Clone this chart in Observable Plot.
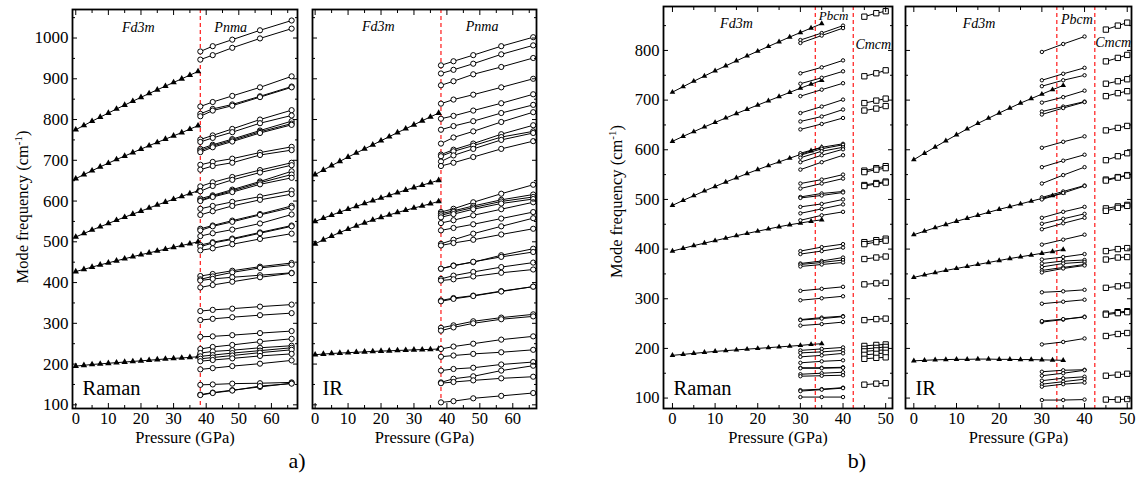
<!DOCTYPE html>
<html><head><meta charset="utf-8">
<script src="https://cdn.jsdelivr.net/npm/d3@7"></script>
<script src="https://cdn.jsdelivr.net/npm/@observablehq/plot@0.6"></script>
<style>
body{margin:0;background:#fff;}
#root{position:relative;width:1142px;height:491px;font-family:"Liberation Serif",serif;color:#000;overflow:hidden;}
#root svg{position:absolute;}
</style></head><body><div id="root"></div>
<script>
// ---------- Panel a) : Fd3m -> Pnma ----------
const aFd3mP = [0,2.5,5,7.5,10,12.5,15,17.5,20,22.5,25,27.5,30,32.5,35,37.5];
const aPnmaP = [38.2,42,48,56.5,66.2];
const aTransition = [38.2];
const aRamanFd3m = [
  [775,785.5,796,806,816,826,835.5,845,854.5,864,873,882,891,900,909,918],
  [655,665,674.5,684,693,702,710.5,719,727.5,736,744,752,760,768,776.5,785],
  [512,520.5,529,537,545,553,560.5,568,575.5,583,590.5,597.5,604.5,611.5,618.5,625],
  [427,432.5,438,443.5,448.5,453.5,458.5,463.5,468.5,473,477.5,482,486.5,491,495.5,500],
  [195,197,199,200.5,202,203.5,205,206.5,208,209.5,211,212.5,214,215,216.5,218]
];
const aRamanPnma = [
  [967,980,996,1019,1043],[947,958,976,999,1023],[832,843,858,879,906],[814,826,837,857,881],
  [808,822,834,855,879],[751,761,777,800,823],[745,755,769,791,810],[728,738,752,773,796],
  [724,735,749,770,790],[720,732,746,767,787],[689,696,704,719,733],[677,686,694,713,725],
  [636,646,659,676,694],[624,637,652,670,688],[606,614,628,648,673],[602,612,625,645,665],
  [600,610,622,641,657],[581,588,598,611,626],[566,575,588,603,617],[532,540,552,568,588],
  [528,538,549,566,584],[514,521,530,545,567],[492,499,508,523,540],[488,497,506,521,538],
  [479,484,494,507,520],[416,421,429,439,448],[408,415,425,436,444],[405,409,413,418,424],
  [388,394,402,413,423],[330,333,336,341,346],[308,311,315,320,325],[267,268,271,276,281],
  [237,242,247,255,262],[227,231,234,240,245],[219,222,227,233,240],[213,216,221,228,235],
  [207,210,214,220,225],[187,190,195,201,209],[149,150,152,153,155],[125,130,136,144,153],
  [124,129,135,146,152]
];
const aIRFd3m = [
  [665,676,687,697.5,708,718,728,738,748,758,768,777.5,787,797,806.5,816],
  [550,558,565.5,573,580,587,594,601,607.5,614,620.5,627,633,639,645,651],
  [495,505,514,523,531,539,546.5,553.5,560,566,572,577.5,583,588,593.5,599],
  [223,224.5,226,227,228,229,230,231,232,232.5,233.5,234,235,235.5,236,237]
];
const aIRPnma = [
  [933,943,958,980,1002],[913,922,937,960,982],[884,894,911,929,951],[839,849,861,879,900],
  [802,809,822,840,862],[775,784,796,816,836],[741,756,771,794,818],[714,726,741,764,786],
  [710,722,736,757,771],[697,712,728,750,767],[686,694,708,728,747],
  [573,581,597,618,640],[569,576,588,603,616],[565,573,584,599,610],[560,568,580,594,605],
  [546,553,565,580,597],[528,534,543,557,573],[495,505,520,538,558],[491,497,505,518,532],
  [434,442,450,467,483],[434,441,451,463,475],[409,417,426,438,449],[405,408,415,424,432],
  [356,362,368,379,390],[354,360,367,378,390],[289,295,305,314,322],[282,290,300,310,317],
  [237,243,250,260,268],[218,221,225,229,235],[184,188,191,199,205],[155,164,170,184,196],
  [153,156,160,165,169],[106,109,116,122,129]
];
const aXTicks = [0,10,20,30,40,50,60];
const aXMinor = [5,15,25,35,45,55,65];
const aYTicks = [100,200,300,400,500,600,700,800,900,1000];
const aYMinor = [150,250,350,450,550,650,750,850,950,1050];

// ---------- Panel b) : Fd3m -> Pbcm -> Cmcm ----------
const bFd3mP = [0,2.5,5,7.5,10,12.5,15,17.5,20,22.5,25,27.5,30,32.5,35];
const bPbcmP = [30,35,40];
const bCmcmP = [45,47.8,50];
const bTransition = [33.5,42.4];
const bRamanFd3m = [
  [716,727,738,748.5,759,769,779,789,798.5,808,817.5,827,836,845,854],
  [617,627,636.5,646,655,664,673,681.5,690,698.5,707,715.5,724,732,740],
  [488,498,507.5,517,526,535,543.5,552,560,568,575.5,583,590.5,598,605],
  [396,401.5,407,412,417,422,427,431.5,436,440.5,445,449,452.5,456,459],
  [186,188,190,192,194,195.5,197,198.5,200,201.5,203,204.5,206,208,209.5]
];
const bRamanPbcm = [
  [821,835,850],[815,830,845],[754,766,780],[733,745,758],[708,721,734],[674,687,701],
  [657,667,681],[641,652,664],[593,605,612],[589,602,610],[584,597,605],[575,589,601],
  [560,575,589],[532,540,550],[522,532,542],[505,512,516],[503,508,514],[485,491,500],
  [472,481,490],[458,468,475],[396,404,410],[390,396,403],[371,376,383],[369,373,378],
  [365,369,373],[316,320,324],[297,301,305],[258,262,265],[257,260,264],[246,249,253],
  [196,199,202],[191,193,196],[183,186,190],[171,174,176],[161,161,162],[160,160,161],
  [148,150,152],[144,145,146],[116,118,121],[114,117,120],[102,102,102]
];
const bRamanCmcm = [
  [868,875,879],[748,754,760],[694,699,703],[679,683,688],[558,563,567],[555,560,563],
  [529,533,536],[527,531,534],[414,418,421],[410,414,417],[380,383,385],[329,331,332],
  [257,259,260],[205,207,208],[199,201,203],[194,196,197],[187,189,191],[179,181,182],
  [127,129,130]
];
const bIRFd3m = [
  [580,593,605.5,618,630,642,653,663.5,674,684,694,703,712,721,729.5],
  [429,436,443,449.5,456,462,468,474,480,485.5,491,496.5,502,507.5,513],
  [343,348,352.5,357,361,365,369,373,377,381,384.5,388,391.5,395,399],
  [175,176,177,177.5,178,178,178.5,178.5,178,178,177.5,177.5,177,176.5,176]
];
const bIRPbcm = [
  [797,813,828],[740,753,765],[728,740,750],[695,706,719],[677,687,697],[671,684,696],
  [604,616,627],[565,578,590],[532,549,565],[504,516,528],[500,513,527],[463,475,485],
  [451,461,471],[440,452,463],[409,419,429],[379,384,390],[371,376,378],[364,371,374],
  [357,363,369],[353,361,367],[313,315,318],[290,294,298],[253,258,264],[255,259,263],
  [208,213,220],[153,156,157],[145,150,156],[135,140,143],[128,133,138],[123,128,131],
  [96,96,97]
];
const bIRCmcm = [
  [842,850,856],[778,785,791],[733,738,742],[708,714,718],[639,644,648],[579,587,593],
  [540,545,549],[538,544,548],[482,486,489],[477,483,487],[396,400,402],[379,383,384],
  [322,325,327],[270,273,275],[268,271,273],[225,229,231],[145,147,149],[97,97,98]
];
const bXTicks = [0,10,20,30,40,50];
const bXMinor = [5,15,25,35,45];
const bYTicks = [100,200,300,400,500,600,700,800];
const bYMinor = [150,250,350,450,550,650,750,850];

const xTitle = "Pressure (GPa)";
const yTitle = "Mode frequency (cm-1)";

// ---------- helpers ----------
const FONT = '"Liberation Serif", "Times New Roman", serif';
const root = document.getElementById("root");

function toRows(P, modes, phase) {
  const out = [];
  modes.forEach((m, i) => m.forEach((f, j) => out.push({phase, mode: phase + "-" + i, p: P[j], f})));
  return out;
}
const STYLE = {
  Fd3m: {symbol: "triangle", fill: "black", stroke: "none"},
  Pnma: {symbol: "circle", fill: "white", stroke: "black"},
  Pbcm: {symbol: "circle", fill: "white", stroke: "black"},
  Cmcm: {symbol: "square", fill: "white", stroke: "black"}
};

function drawPanel(cfg) {
  const [l, t, r, b] = cfg.frame;
  const mL = 50, mR = 14, mT = 6, mB = 32;
  const marks = [Plot.ruleX(cfg.trans, {stroke: "#ff2a2a", strokeWidth: 1.3, strokeDasharray: "4,3"})];
  for (const s of cfg.series) marks.push(Plot.line(s.rows, {x: "p", y: "f", z: "mode", stroke: "black", strokeWidth: 1}));
  for (const s of cfg.series) {
    const st = STYLE[s.phase];
    marks.push(Plot.dot(s.rows, {x: "p", y: "f", symbol: st.symbol, r: cfg.r[s.phase], fill: st.fill, stroke: st.stroke, strokeWidth: 1}));
  }
  for (const pl of cfg.phaseLabels) {
    marks.push(Plot.text([pl], {x: "x", text: "name", frameAnchor: "top", dy: pl.dy, fontStyle: "italic", fontSize: pl.size, lineAnchor: "middle"}));
  }
  marks.push(Plot.text([cfg.tag], {frameAnchor: "bottom-left", dx: 10, dy: -20, fontSize: 20.5, textAnchor: "start", lineAnchor: "middle"}));
  marks.push(Plot.text([xTitle], {frameAnchor: "bottom", dy: 29, fontSize: 16.5, lineAnchor: "middle"}));
  if (cfg.yTitle) marks.push(Plot.text([yTitle], {frameAnchor: "left", dx: cfg.yTitle.dx, dy: cfg.yTitle.dy, rotate: -90, fontSize: 16.5, lineAnchor: "middle", textAnchor: "middle"}));
  marks.push(
    Plot.axisX({anchor: "bottom", ticks: cfg.xTicks, tickSize: -5, tickPadding: 9, label: null, fontSize: 16.5, tickFormat: d => String(d)}),
    Plot.axisX({anchor: "bottom", ticks: cfg.xMinor, tickSize: -3, fill: "none", label: null}),
    Plot.axisX({anchor: "top", ticks: cfg.xTicks, tickSize: -5, fill: "none", label: null}),
    Plot.axisX({anchor: "top", ticks: cfg.xMinor, tickSize: -3, fill: "none", label: null}),
    Plot.axisY({anchor: "left", ticks: cfg.yTicks, tickSize: -5, tickPadding: 9, label: null, fontSize: cfg.yFont, fill: cfg.yLabels ? "black" : "none", tickFormat: d => String(d)}),
    Plot.axisY({anchor: "left", ticks: cfg.yMinor, tickSize: -3, fill: "none", label: null}),
    Plot.axisY({anchor: "right", ticks: cfg.yTicks, tickSize: -5, fill: "none", label: null}),
    Plot.axisY({anchor: "right", ticks: cfg.yMinor, tickSize: -3, fill: "none", label: null}),
    Plot.frame({stroke: "black", strokeWidth: 1.8})
  );
  const svg = Plot.plot({
    width: (r - l) + mL + mR, height: (b - t) + mT + mB,
    marginLeft: mL, marginRight: mR, marginTop: mT, marginBottom: mB,
    x: {domain: cfg.xDomain}, y: {domain: cfg.yDomain},
    style: {fontFamily: FONT, fontSize: "16px", background: "transparent", overflow: "visible", color: "black"},
    marks
  });
  // superscript for cm^-1
  svg.querySelectorAll("text").forEach(el => {
    if (el.textContent === yTitle) {
      el.textContent = "";
      const ns = "http://www.w3.org/2000/svg";
      const a = document.createElementNS(ns, "tspan"); a.textContent = "Mode frequency (cm";
      const s = document.createElementNS(ns, "tspan"); s.textContent = "-1"; s.setAttribute("dy", "-6"); s.setAttribute("font-size", "11");
      const c = document.createElementNS(ns, "tspan"); c.textContent = ")"; c.setAttribute("dy", "6");
      el.append(a, s, c);
    }
  });
  svg.style.left = (l - mL) + "px";
  svg.style.top = (t - mT) + "px";
  svg.style.maxWidth = "none";
  root.appendChild(svg);
}

// ---------- draw ----------
const aR = {Fd3m: 2.4, Pnma: 2.6};
const bR = {Fd3m: 2.1, Pbcm: 1.7, Cmcm: 3};

drawPanel({
  frame: [72, 9, 297, 408], xDomain: [-1, 68], yDomain: [91, 1070],
  xTicks: aXTicks, xMinor: aXMinor, yTicks: aYTicks, yMinor: aYMinor, yLabels: true, yFont: 17,
  yTitle: {dx: -50, dy: -2},
  trans: aTransition, r: aR, tag: "Raman",
  series: [{phase: "Fd3m", rows: toRows(aFd3mP, aRamanFd3m, "Fd3m")}, {phase: "Pnma", rows: toRows(aPnmaP, aRamanPnma, "Pnma")}],
  phaseLabels: [{name: "Fd3m", x: 19.2, dy: 18, size: 14}, {name: "Pnma", x: 47.5, dy: 18, size: 14}]
});
drawPanel({
  frame: [312, 9, 536, 408], xDomain: [-0.8, 67.2], yDomain: [91, 1070],
  xTicks: aXTicks, xMinor: aXMinor, yTicks: aYTicks, yMinor: aYMinor, yLabels: false, yFont: 17,
  trans: aTransition, r: aR, tag: "IR",
  series: [{phase: "Fd3m", rows: toRows(aFd3mP, aIRFd3m, "Fd3m")}, {phase: "Pnma", rows: toRows(aPnmaP, aIRPnma, "Pnma")}],
  phaseLabels: [{name: "Fd3m", x: 19.2, dy: 17, size: 14}, {name: "Pnma", x: 50.7, dy: 17, size: 14}]
});
drawPanel({
  frame: [663, 6, 892, 408], xDomain: [-2.1, 51.6], yDomain: [79, 888.5],
  xTicks: bXTicks, xMinor: bXMinor, yTicks: bYTicks, yMinor: bYMinor, yLabels: true, yFont: 16.5,
  yTitle: {dx: -47, dy: -6},
  trans: bTransition, r: bR, tag: "Raman",
  series: [{phase: "Fd3m", rows: toRows(bFd3mP, bRamanFd3m, "Fd3m")}, {phase: "Pbcm", rows: toRows(bPbcmP, bRamanPbcm, "Pbcm")}, {phase: "Cmcm", rows: toRows(bCmcmP, bRamanCmcm, "Cmcm")}],
  phaseLabels: [{name: "Fd3m", x: 15, dy: 17, size: 14}, {name: "Pbcm", x: 37.8, dy: 9, size: 13}, {name: "Cmcm", x: 47.1, dy: 38, size: 14}]
});
drawPanel({
  frame: [905, 6, 1131, 408], xDomain: [-1.95, 51], yDomain: [79, 888.5],
  xTicks: bXTicks, xMinor: bXMinor, yTicks: bYTicks, yMinor: bYMinor, yLabels: false, yFont: 16.5,
  trans: bTransition, r: bR, tag: "IR",
  series: [{phase: "Fd3m", rows: toRows(bFd3mP, bIRFd3m, "Fd3m")}, {phase: "Pbcm", rows: toRows(bPbcmP, bIRPbcm, "Pbcm")}, {phase: "Cmcm", rows: toRows(bCmcmP, bIRCmcm, "Cmcm")}],
  phaseLabels: [{name: "Fd3m", x: 15.3, dy: 17, size: 14}, {name: "Pbcm", x: 38.2, dy: 13, size: 14}, {name: "Cmcm", x: 46.7, dy: 36, size: 14}]
});

// ---------- sub-figure captions ----------
const overlay = d3.create("svg").attr("width", 1142).attr("height", 491)
  .style("left", "0px").style("top", "0px").style("pointer-events", "none")
  .style("font-family", FONT);
function caption(txt, cx, cy) {
  overlay.append("text").attr("x", cx).attr("y", cy).attr("text-anchor", "middle")
    .attr("dominant-baseline", "middle").attr("font-size", 22).text(txt);
}
caption("a)", 297, 463);
caption("b)", 857, 463);
root.appendChild(overlay.node());
</script>
</body></html>
